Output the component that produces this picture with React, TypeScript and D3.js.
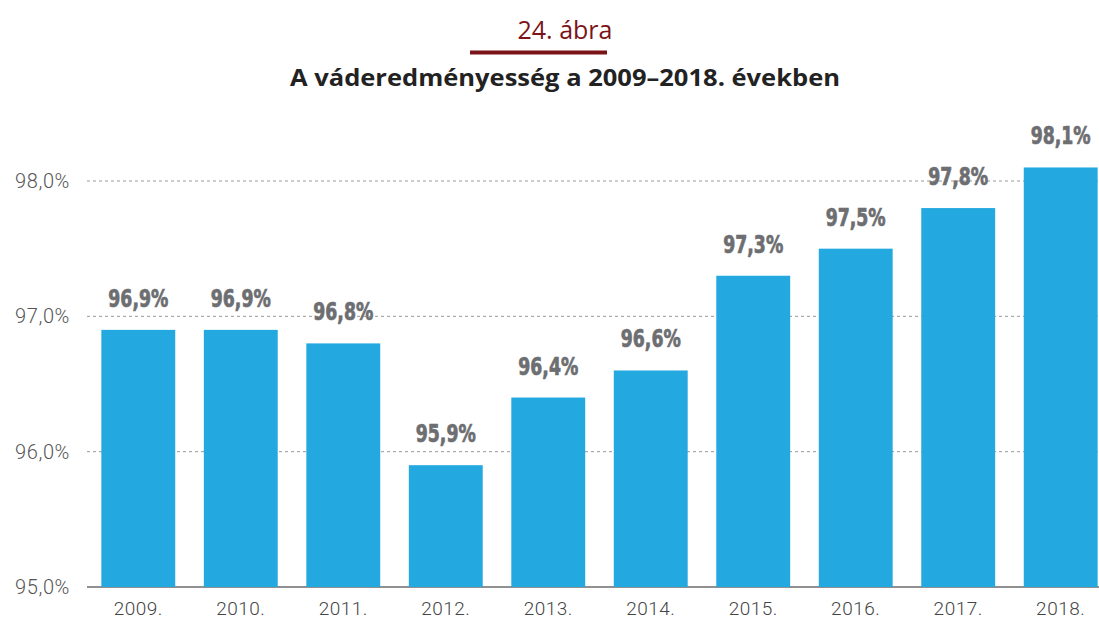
import React from "react";
import * as d3 from "d3";

const years = ["2009.", "2010.", "2011.", "2012.", "2013.", "2014.", "2015.", "2016.", "2017.", "2018."];
const values = [96.9, 96.9, 96.8, 95.9, 96.4, 96.6, 97.3, 97.5, 97.8, 98.1];
const yTicks = [95, 96, 97, 98];

const W = 1099;
const H = 619;

const fmt = (v: number, d: number) => v.toFixed(d).replace(".", ",") + "%";

export default function App() {
  const x = d3.scaleBand<string>().domain(years).range([87, 1112]).paddingInner(0.279).paddingOuter(0.14);
  const y = d3.scaleLinear().domain([95, 98]).range([587, 181]);
  return (
    <svg width={W} height={H} style={{ position: "absolute", left: 0, top: 0, background: "#fff" }}>
      <text x={565} y={39} textAnchor="middle" fill="#7a1418" fontFamily="'Open Sans','Noto Sans',sans-serif" fontWeight={400} fontSize={26} textLength={95} lengthAdjust="spacingAndGlyphs">24. ábra</text>
      <rect x={470} y={50.5} width={137} height={4} fill="#7a1418" />
      <text x={565} y={86} textAnchor="middle" fill="#222" fontFamily="'Open Sans','Noto Sans',sans-serif" fontWeight={700} fontSize={23} textLength={550} lengthAdjust="spacingAndGlyphs">A váderedményesség a 2009–2018. években</text>
      {yTicks.map((t) => (
        <g key={t}>
          {t !== 95 && (
            <line x1={87} x2={W} y1={y(t)} y2={y(t)} stroke="#999" strokeWidth={1} strokeDasharray="3,3" />
          )}
          <text x={70} y={y(t) + 7} textAnchor="end" fill="#555" fontFamily="Roboto, sans-serif" fontWeight={300} fontSize={20} letterSpacing={0.6}>{fmt(t, 1)}</text>
        </g>
      ))}
      <line x1={87} x2={W} y1={587} y2={587} stroke="#222" strokeWidth={1.2} />
      {years.map((yr, i) => {
        const cx = (x(yr) as number) + x.bandwidth() / 2;
        return (
          <g key={yr}>
            <rect x={x(yr)} y={y(values[i])} width={x.bandwidth()} height={587 - y(values[i])} fill="#24a8e0" />
            <text transform={`translate(${cx},${y(values[i]) - 23}) scale(0.8,1)`} textAnchor="middle" fill="#6d6e71" stroke="#6d6e71" strokeWidth={0.7} fontFamily="'DejaVu Sans Condensed','DejaVu Sans',sans-serif" fontWeight={700} fontSize={24}>{fmt(values[i], 1)}</text>
            <text x={cx} y={615} textAnchor="middle" fill="#444" fontFamily="Roboto, sans-serif" fontWeight={300} fontSize={19} letterSpacing={0.5}>{yr}</text>
          </g>
        );
      })}
    </svg>
  );
}
